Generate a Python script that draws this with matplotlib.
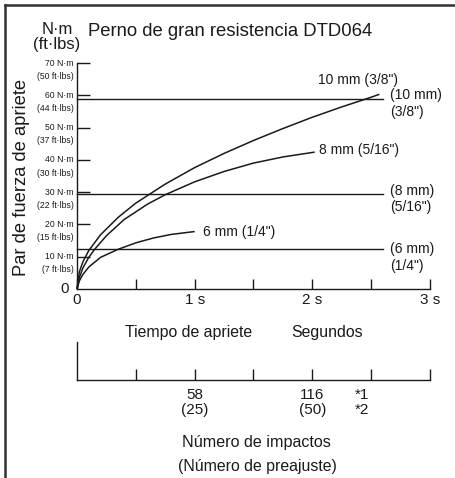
import matplotlib
matplotlib.use("Agg")
import matplotlib.pyplot as plt
from matplotlib import font_manager
from matplotlib.lines import Line2D
import matplotlib.transforms as mtransforms

# ---------------- data ----------------
title = "Perno de gran resistencia DTD064"
ylabel = "Par de fuerza de apriete"
unit_label = "N·m\n(ft·lbs)"

torque_ticks = [10, 20, 30, 40, 50, 60, 70]
torque_nm_labels = ["10 N·m", "20 N·m", "30 N·m", "40 N·m", "50 N·m", "60 N·m", "70 N·m"]
torque_ft_labels = ["(7 ft·lbs)", "(15 ft·lbs)", "(22 ft·lbs)", "(30 ft·lbs)",
                    "(37 ft·lbs)", "(44 ft·lbs)", "(50 ft·lbs)"]

time_ticks = [0, 0.5, 1, 1.5, 2, 2.5, 3]
time_labels = ["0", "", "1 s", "", "2 s", "", "3 s"]

# tightening curves (time s, torque N·m)
t_10mm = [0, 0.02, 0.05, 0.1, 0.2, 0.35, 0.5, 0.75, 1.0, 1.25, 1.5, 1.75, 2.0, 2.25, 2.5, 2.57]
v_10mm = [0, 5.3, 8.4, 11.9, 16.8, 22.2, 26.6, 32.5, 37.6, 42.0, 46.0, 49.7, 53.2, 56.4, 59.4, 60.3]
t_8mm = [0, 0.02, 0.05, 0.1, 0.15, 0.25, 0.4, 0.6, 0.75, 1.0, 1.25, 1.5, 1.75, 2.02]
v_8mm = [0, 3.5, 6.5, 9.8, 12.3, 16.5, 21.5, 26.3, 29.2, 33.2, 36.4, 39.0, 40.9, 42.4]
t_6mm = [0, 0.02, 0.05, 0.1, 0.2, 0.35, 0.5, 0.65, 0.8, 1.0]
v_6mm = [0, 2.5, 4.5, 6.8, 9.8, 12.3, 14.3, 15.8, 16.9, 17.8]

curve_labels = ['10 mm (3/8")', '8 mm (5/16")', '6 mm (1/4")']

# recommended torque levels (N·m) and their end time
level_values = [59.0, 29.5, 12.3]
level_end = 2.6
level_labels = ['(10 mm)\n(3/8")', '(8 mm)\n(5/16")', '(6 mm)\n(1/4")']

impact_ticks = [0.5, 1, 1.5, 2, 2.5, 3]
impact_label_pos = [1, 2]
impact_labels = ["58\n(25)", "116\n(50)"]
note_label = "*1\n*2"

# ---------------- style ----------------
W, H = 456, 478
fig = plt.figure(figsize=(W / 100, H / 100), dpi=100)
fig.patch.set_facecolor("white")

names = {f.name for f in font_manager.fontManager.ttflist}
base = "Liberation Sans" if "Liberation Sans" in names else "DejaVu Sans"
narrow = "Liberation Sans Narrow" if "Liberation Sans Narrow" in names else base
plt.rcParams["font.family"] = [base, "DejaVu Sans"]
tick_size = 6.8 if narrow != base else 6.2

ink = "#1a1a1a"

def fx(px):
    return px / W

def fy(py):
    return 1 - py / H

# frame
fig.add_artist(Line2D([fx(5), fx(456)], [fy(5), fy(5)], color="#333333", lw=1.8))
fig.add_artist(Line2D([fx(5), fx(5)], [fy(5), fy(478)], color="#333333", lw=1.8))

# main axes: x 0..3 -> px 77..430, y 0..70 -> px 289..63
ax = fig.add_axes([fx(77), fy(289), fx(430) - fx(77), (289 - 63) / H])
ax.set_xlim(0, 3)
ax.set_ylim(0, 70)
for s in ["top", "right"]:
    ax.spines[s].set_visible(False)
for s in ["left", "bottom"]:
    ax.spines[s].set_color(ink)
    ax.spines[s].set_linewidth(1.0)
ax.set_xticks(time_ticks)
ax.set_xticklabels(time_labels)
ax.tick_params(axis="x", direction="in", length=7, width=1, color=ink, pad=3,
               labelsize=11, labelcolor=ink)
ax.set_yticks(torque_ticks)
ax.set_yticklabels([])
ax.tick_params(axis="y", direction="in", length=9, width=1, color=ink)
ax.patch.set_alpha(0)

# y tick labels (two lines)
for val, l1, l2 in zip(torque_ticks, torque_nm_labels, torque_ft_labels):
    tr1 = mtransforms.offset_copy(ax.get_yaxis_transform(), fig=fig, x=-2.5, y=0, units="points")
    tr2 = mtransforms.offset_copy(ax.get_yaxis_transform(), fig=fig, x=-2.5, y=-9.5, units="points")
    ax.text(0, val, l1, transform=tr1, ha="right", va="center", fontsize=tick_size,
            family=narrow, color=ink)
    ax.text(0, val, l2, transform=tr2, ha="right", va="center", fontsize=tick_size,
            family=narrow, color=ink)
ax.text(0, 0, "0", transform=mtransforms.offset_copy(ax.get_yaxis_transform(), fig=fig,
        x=-6, y=0, units="points"), ha="right", va="center", fontsize=11, color=ink)

# curves
for t, v in [(t_10mm, v_10mm), (t_8mm, v_8mm), (t_6mm, v_6mm)]:
    ax.plot(t, v, color=ink, lw=1.1, clip_on=False, solid_capstyle="butt")

# levels
for val in level_values:
    ax.plot([0, level_end], [val, val], color=ink, lw=1.0, clip_on=False)

# curve labels
ax.text(2.045, 64.7, curve_labels[0], ha="left", va="center", fontsize=10, color=ink)
ax.text(2.06, 43.0, curve_labels[1], ha="left", va="center", fontsize=10, color=ink)
ax.text(1.07, 17.6, curve_labels[2], ha="left", va="center", fontsize=10, color=ink)

# level labels
level_label_y = [57.4, 27.9, 9.8]
for y, lab in zip(level_label_y, level_labels):
    ax.text(2.66, y, lab, ha="left", va="center", fontsize=10, color=ink,
            linespacing=1.25)

# top texts
fig.text(fx(57), fy(37), unit_label, ha="center", va="center", fontsize=12,
         color=ink, linespacing=1.0)
fig.text(fx(88), fy(31), title, ha="left", va="center", fontsize=13.3, color=ink)
fig.text(fx(22), fy(177), ylabel, ha="center", va="center", rotation=90,
         fontsize=13.2, color=ink)

fig.text(fx(189), fy(333), "Tiempo de apriete", ha="center", va="center",
         fontsize=11.4, color=ink)
fig.text(fx(327), fy(332), "Segundos", ha="center", va="center",
         fontsize=11.4, color=ink)

# impacts axis
ax2 = fig.add_axes([fx(77), fy(380), fx(430) - fx(77), (380 - 342) / H])
ax2.set_xlim(0, 3)
ax2.set_ylim(0, 1)
for s in ["top", "right"]:
    ax2.spines[s].set_visible(False)
for s in ["left", "bottom"]:
    ax2.spines[s].set_color(ink)
    ax2.spines[s].set_linewidth(1.0)
ax2.set_xticks(impact_ticks)
ax2.set_xticklabels([])
ax2.set_yticks([])
ax2.tick_params(axis="x", direction="in", length=8, width=1, color=ink)
ax2.patch.set_alpha(0)

for xpos, lab in zip(impact_label_pos, impact_labels):
    ax2.text(xpos, 0, lab, transform=mtransforms.offset_copy(ax2.get_xaxis_transform(),
             fig=fig, x=0, y=-6, units="points"), ha="center", va="top",
             fontsize=11, color=ink, linespacing=1.1)
ax2.text(2.42, 0, note_label, transform=mtransforms.offset_copy(ax2.get_xaxis_transform(),
         fig=fig, x=0, y=-6, units="points"), ha="center", va="top",
         fontsize=11, color=ink, linespacing=1.1)

fig.text(fx(256), fy(443), "Número de impactos", ha="center", va="center",
         fontsize=11.6, color=ink)
fig.text(fx(257), fy(467), "(Número de preajuste)", ha="center", va="center",
         fontsize=11.4, color=ink)

fig.savefig("out.png", dpi=100, facecolor="white")
